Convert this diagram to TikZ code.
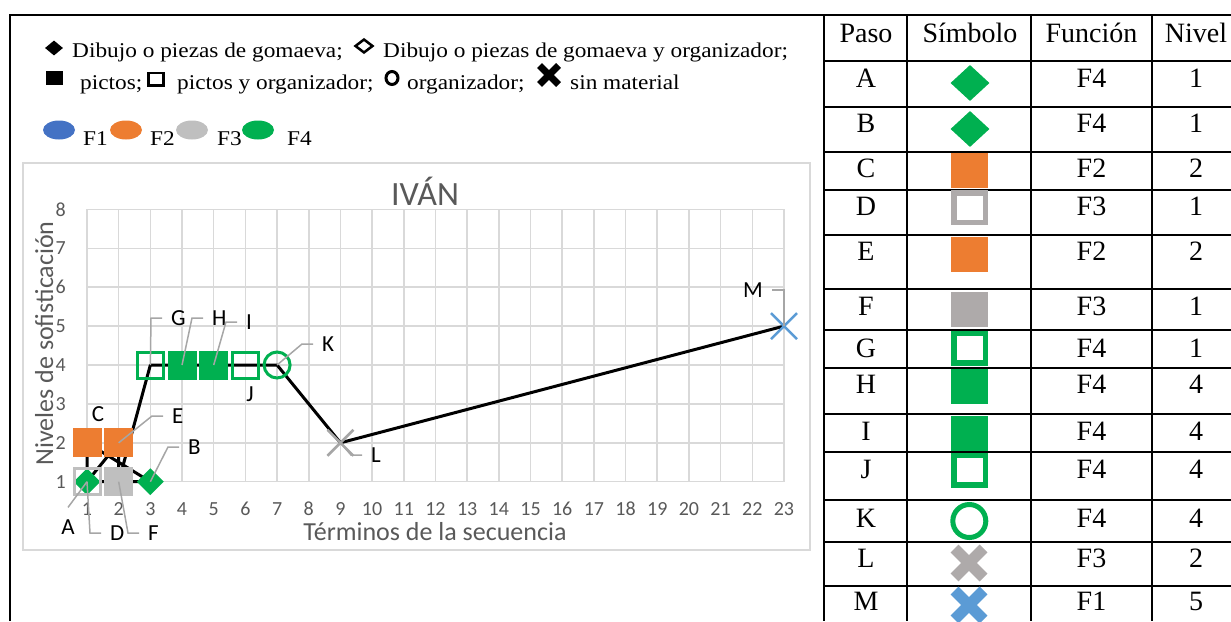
\documentclass[tikz,border=0pt]{standalone}
\usepackage{fontspec}
\setmainfont{Liberation Serif}
\newfontfamily\chartfont{Carlito}
\newfontfamily\legendfont[FakeStretch=1.11]{Liberation Serif}
\usepackage{tikz}
\usetikzlibrary{positioning,shapes.geometric,shapes.misc}
\definecolor{fblue}{HTML}{4472C4}
\definecolor{forange}{HTML}{ED7D31}
\definecolor{fgray}{HTML}{BFBFBF}
\definecolor{fgreen}{HTML}{00B050}
\definecolor{tgray}{HTML}{AEAAAA}
\definecolor{xblue}{HTML}{5B9BD5}
\definecolor{xgray}{HTML}{A6A6A6}
\definecolor{gridgray}{HTML}{D9D9D9}
\definecolor{txtgray}{HTML}{595959}

\begin{document}
\begin{tikzpicture}[x=1pt, y=-1pt,
    legtxt/.style={anchor=base west, inner sep=0pt, font=\legendfont\fontsize{21}{25}\selectfont},
    gridline/.style={gridgray, line width=1.5pt},
    ticklbl/.style={inner sep=0pt, txtgray, font=\chartfont\fontsize{20}{24}\selectfont},
    ptlbl/.style={inner sep=0pt, font=\chartfont\fontsize{23}{27}\selectfont},
    leader/.style={xgray, line width=1.5pt},
    mksq/.style={rectangle, inner sep=0pt, minimum size=29pt},
    mkhollow/.style={rectangle, inner sep=0pt, minimum size=26pt, line width=3pt},
    mkdia/.style={diamond, inner sep=0pt, minimum width=27pt, minimum height=27pt},
    mkcross/.style={cross out, inner sep=0pt, outer sep=0pt, minimum size=26pt, line width=2.5pt},
    tline/.style={line width=2.5pt},
    tcell/.style={anchor=base, inner sep=0pt, font=\fontsize{28}{32}\selectfont},
    tsq/.style={rectangle, inner sep=0pt, minimum width=37pt, minimum height=35pt},
    thollow/.style={rectangle, inner sep=0pt, minimum width=31.5pt, minimum height=29.5pt, line width=5.5pt},
    tdia/.style={diamond, inner sep=0pt, minimum width=39pt, minimum height=36pt},
    tcross/.style={cross out, inner sep=0pt, outer sep=0pt, minimum size=29pt, line width=11pt},
    ]
\useasboundingbox (0,0) rectangle (1231,621);

\draw[tline] (10,621) -- (10,15) -- (824,15);

\node[diamond, fill=black, inner sep=0pt, minimum width=18pt, minimum height=15pt] (lgDia) at (54,48) {};
\node[legtxt] (lgT1) at (72,57) {Dibujo o piezas de gomaeva;};
\node[diamond, draw=black, line width=2.5pt, inner sep=0pt, minimum width=18pt, minimum height=14pt] (lgDiaO) at (364,46) {};
\node[legtxt] (lgT2) at (383,57) {Dibujo o piezas de gomaeva y organizador;};
\node[rectangle, fill=black, inner sep=0pt, minimum width=17pt, minimum height=14pt] (lgSq) at (54,78) {};
\node[legtxt] (lgT3) at (80,89) {pictos;};
\node[rectangle, draw=black, line width=2.5pt, inner sep=0pt, minimum width=15pt, minimum height=12.5pt] (lgSqO) at (156,79) {};
\node[legtxt] (lgT4) at (177,89) {pictos y organizador;};
\node[ellipse, draw=black, line width=3pt, inner sep=0pt, minimum width=12pt, minimum height=13pt] (lgCirc) at (392,78) {};
\node[legtxt] (lgT5) at (407,89) {organizador;};
\node[cross out, draw=black, line width=7pt, inner sep=0pt, outer sep=0pt, minimum size=19pt] (lgX) at (549,75) {};
\node[legtxt] (lgT6) at (570,89) {sin material};
\foreach \c/\cx/\tx/\lbl in {fblue/59/83/F1, forange/126/150/F2, fgray/192/217/F3, fgreen/258/287/F4} {
  \node[ellipse, fill=\c, inner sep=0pt, minimum width=32pt, minimum height=19pt] (lgE\lbl) at (\cx,130) {};
  \node[legtxt] (lgF\lbl) at (\tx,145) {\lbl};
}

\draw[gridline] (23,163) rectangle (810,550);
\node[ticklbl, font=\chartfont\fontsize{34}{40}\selectfont, anchor=base] (title) at (425,205) {IVÁN};
\node[ticklbl, font=\chartfont\fontsize{26}{31}\selectfont, anchor=base] (xtitle) at (435,540) {Términos de la secuencia};
\node[ticklbl, font=\chartfont\fontsize{26}{31}\selectfont, anchor=base, rotate=90] (ytitle) at (53,343.5) {Niveles de sofisticación};

\begin{scope}[shift={(55.32pt,-520.6pt)}, x=31.68pt, y=38.9pt]
  \foreach \n in {1,...,23} {
    \draw[gridline] (\n,1) -- (\n,8);
    \node[ticklbl, yshift=-27pt] (xt\n) at (\n,1) {\n};
  }
  \foreach \v in {1,...,8} {
    \draw[gridline] (1,\v) -- (23,\v);
    \node[ticklbl, anchor=east, xshift=-21pt] (yt\v) at (1,\v) {\v};
  }
  \foreach \s/\x/\y in {A/1/1, B/3/1, C/1/2, D/1/1, E/2/2, F/2/1, G/3/4, H/4/4, I/5/4, J/6/4, K/7/4, L/9/2, M/23/5}
    \coordinate (p\s) at (\x,\y);
  \draw[line width=3pt, line join=round] (pA) -- (pB) -- (pC) -- (pD) -- (pE) -- (pF) -- (pG)
    -- (pH) -- (pI) -- (pJ) -- (pK) -- (pL) -- (pM);
  \node[mkdia, fill=fgreen] (A) at (pA) {};
  \node[mkdia, fill=fgreen] (B) at (pB) {};
  \node[mksq, fill=forange] (C) at (pC) {};
  \node[mkhollow, draw=fgray] (D) at (pD) {};
  \node[mksq, fill=forange] (E) at (pE) {};
  \node[mksq, fill=fgray] (F) at (pF) {};
  \node[mkhollow, draw=fgreen] (G) at (pG) {};
  \node[mksq, fill=fgreen] (H) at (pH) {};
  \node[mksq, fill=fgreen] (I) at (pI) {};
  \node[mkhollow, draw=fgreen] (J) at (pJ) {};
  \node[circle, inner sep=0pt, minimum size=26pt, line width=3pt, draw=fgreen] (K) at (pK) {};
  \node[mkcross, draw=xgray] (L) at (pL) {};
  \node[mkcross, draw=xblue] (M) at (pM) {};
\end{scope}

\node[ptlbl] (labA) at (68,527) {A};
\node[ptlbl, anchor=west] (labB) at (188,447) {B};
\node[ptlbl] (labC) at (98,414) {C};
\node[ptlbl, anchor=west] (labD) at (110,533) {D};
\node[ptlbl, anchor=west] (labE) at (172,416) {E};
\node[ptlbl, anchor=west] (labF) at (148,533) {F};
\node[ptlbl, anchor=west] (labG) at (171,318) {G};
\node[ptlbl, anchor=west] (labH) at (212,318) {H};
\node[ptlbl, anchor=west] (labI) at (246,322) {I};
\node[ptlbl] (labJ) at (250,394) {J};
\node[ptlbl, anchor=west] (labK) at (322,344) {K};
\node[ptlbl, anchor=west] (labL) at (371,455) {L};
\node[ptlbl, anchor=east] (labM) at (763,290) {M};
\foreach \s in {B,D,E,F,G,H,I,K,L}
  \draw[leader] (\s.center) -- ([xshift=-20pt]lab\s.west) -- ([xshift=-9pt]lab\s.west);
\draw[leader] (A.center) -- ([yshift=12pt]labA.north);
\draw[leader] (M.center) |- ([xshift=9pt]labM.east);

\foreach \y in {15,61,107,152,190,235,289,330,368,414,452,500,542,586}
  \draw[tline] (824,\y) -- (1231,\y);
\foreach \x in {824,907,1031,1152}
  \draw[tline] (\x,15) -- (\x,621);
\node[tcell] (hPaso) at (866,42) {Paso};
\node[tcell] (hSimb) at (970,42) {Símbolo};
\node[tcell] (hFunc) at (1091.5,42) {Función};
\node[tcell] (hNivel) at (1196,42) {Nivel};
\foreach \p/\f/\n/\b in {A/F4/1/87, B/F4/1/132, C/F2/2/177, D/F3/1/215, E/F2/2/260, F/F3/1/315, G/F4/1/357,
    H/F4/4/393, I/F4/4/440, J/F4/4/478, K/F4/4/527, L/F3/2/567, M/F1/5/610} {
  \node[tcell] (paso\p) at (866,\b) {\p};
  \node[tcell] (func\p) at (1091.5,\b) {\f};
  \node[tcell] (nivel\p) at (1196,\b) {\n};
}
\node[tdia, fill=fgreen] (symA) at (970,83) {};
\node[tdia, fill=fgreen] (symB) at (970,129) {};
\node[tsq, fill=forange] (symC) at (969.5,170.5) {};
\node[thollow, draw=tgray] (symD) at (969.5,207.5) {};
\node[tsq, fill=forange] (symE) at (969.5,254.5) {};
\node[tsq, fill=tgray] (symF) at (969.5,309) {};
\node[thollow, draw=fgreen] (symG) at (969.5,348) {};
\node[tsq, fill=fgreen] (symH) at (969.5,386.5) {};
\node[tsq, fill=fgreen] (symI) at (969.5,433) {};
\node[thollow, draw=fgreen] (symJ) at (969.5,470) {};
\node[circle, inner sep=0pt, minimum size=33pt, line width=5pt, draw=fgreen] (symK) at (969.3,521) {};
\node[tcross, draw=tgray] (symL) at (969,563) {};
\node[tcross, draw=xblue] (symM) at (969,605) {};
\end{tikzpicture}
\end{document}
